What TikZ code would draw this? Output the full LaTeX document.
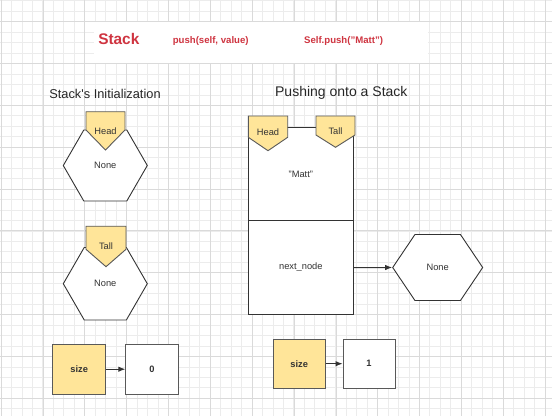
\documentclass[tikz,border=0pt]{standalone}
\usepackage{fontspec}
\setmainfont{Liberation Sans}
\usepackage{tikz}
\usetikzlibrary{shapes.symbols}
\usetikzlibrary{arrows.meta}
\definecolor{gridminor}{HTML}{ECECEC}
\definecolor{gridmajor}{HTML}{DADADA}
\definecolor{pointer}{HTML}{FFE599}
\definecolor{stackred}{HTML}{CF3440}
\definecolor{ink}{HTML}{333333}
\tikzstyle{minorline}=[draw=gridminor,line width=0.8pt]
\tikzstyle{majorline}=[draw=gridmajor,line width=0.8pt]
\tikzstyle{hexa}=[signal,signal to=west and east,draw=ink,fill=white,line width=0.9pt,inner sep=0pt,text=ink,font=\fontsize{9.3}{11}\selectfont]
\tikzstyle{tagshape}=[draw=black!65,fill=pointer,line width=0.9pt,line join=miter]
\tikzstyle{tagtext}=[inner sep=0pt,text=ink,font=\fontsize{9.3}{11}\selectfont]
\tikzstyle{cell}=[rectangle,draw=ink,fill=white,line width=0.9pt,inner sep=0pt,text=ink,font=\fontsize{9.3}{11}\selectfont]
\tikzstyle{sizecell}=[rectangle,draw=black!65,fill=pointer,line width=0.9pt,inner sep=0pt,text=ink,font=\bfseries\fontsize{9.3}{11}\selectfont]
\tikzstyle{valcell}=[rectangle,draw=black!65,fill=white,line width=0.9pt,inner sep=0pt,text=ink,font=\bfseries\fontsize{9.3}{11}\selectfont]
\tikzstyle{link}=[draw=ink,line width=1pt,-{Latex[length=7pt,width=5.5pt]}]
\tikzstyle{heading}=[text=black!85,inner sep=0pt]
\tikzstyle{redtext}=[text=stackred,inner sep=0pt,font=\bfseries\fontsize{9.6}{11}\selectfont]

\begin{document}
\begin{tikzpicture}[x=1pt,y=-1pt]

  \useasboundingbox (0,0) rectangle (552,416);

  % background grid
  \foreach \i in {0,...,52}
    \path[minorline] (1+\i*10.46,0) -- (1+\i*10.46,416);
  \foreach \j in {0,...,39}
    \path[minorline] (0,0.8+\j*10.46) -- (552,0.8+\j*10.46);
  \foreach \i in {0,...,13}
    \path[majorline] (1.1+\i*41.86,0) -- (1.1+\i*41.86,416);
  \foreach \j in {0,...,9}
    \path[majorline] (0,21.7+\j*41.8) -- (552,21.7+\j*41.8);

  % title band
  \node[fill=white,minimum width=334pt,minimum height=41pt,inner sep=0pt] (banner) at (261,42.5) {};
  \node[redtext,font=\bfseries\fontsize{15.4}{17}\selectfont] (stack) at (118.8,38.5) {Stack};
  \node[redtext] (push) at (210.7,41) {push(self, value)};
  \node[redtext] (call) at (343.6,41) {Self.push("Matt")};

  \node[heading,font=\fontsize{12.8}{15}\selectfont] (init) at (105,94) {Stack\textquotesingle s Initialization};
  \node[heading,font=\fontsize{14}{16}\selectfont] (pushing) at (341.3,93.3) {Pushing onto a Stack};

  % initialization
  \node[hexa,signal pointer angle=120,minimum width=84pt,minimum height=71pt] (none1) at (105.3,165.5) {None};
  \node[hexa,signal pointer angle=120,minimum width=84pt,minimum height=72.5pt] (none2) at (105.3,283.7) {None};

  \node[sizecell,minimum width=53pt,minimum height=49.7pt] (size0) at (79.2,369.2) {size};
  \node[valcell,minimum width=52.3pt,minimum height=49.7pt] (zero) at (151.9,369.2) {0};

  % pushing
  \node[cell,minimum width=105pt,minimum height=93pt] (matt) at (300.8,174.2) {"Matt"};
  \node[cell,minimum width=105pt,minimum height=93.6pt] (next) at (300.8,267.5) {next\_node};
  \node[hexa,signal pointer angle=112,minimum width=90pt,minimum height=66pt] (none3) at (437.7,267.5) {None};

  \node[sizecell,minimum width=51.7pt,minimum height=49.3pt] (size1) at (299.2,363.7) {size};
  \node[valcell,minimum width=52pt,minimum height=49.3pt] (one) at (369,363.7) {1};

  % pointer tags
  \foreach \name/\x/\y/\w/\s/\d/\ty/\label in {head1/105.5/111.7/39/18.3/20/130.7/Head, tall1/106/226.2/40/23.1/17.4/246/Tall, head2/268/116/39.4/21.3/13.4/132.3/Head, tall2/335.5/116/39/19/12.3/130.7/Tall}
  {
    \path[tagshape] (\x-\w/2,\y) -- (\x+\w/2,\y) -- (\x+\w/2,\y+\s) -- (\x,\y+\s+\d) -- (\x-\w/2,\y+\s) -- cycle;
    \node[tagtext] (\name) at (\x,\ty) {\label};
  }

  \foreach \source/\dest in {size0/zero, size1/one, next/none3}
    \path[link] (\source) -- (\dest);

\end{tikzpicture}
\end{document}
